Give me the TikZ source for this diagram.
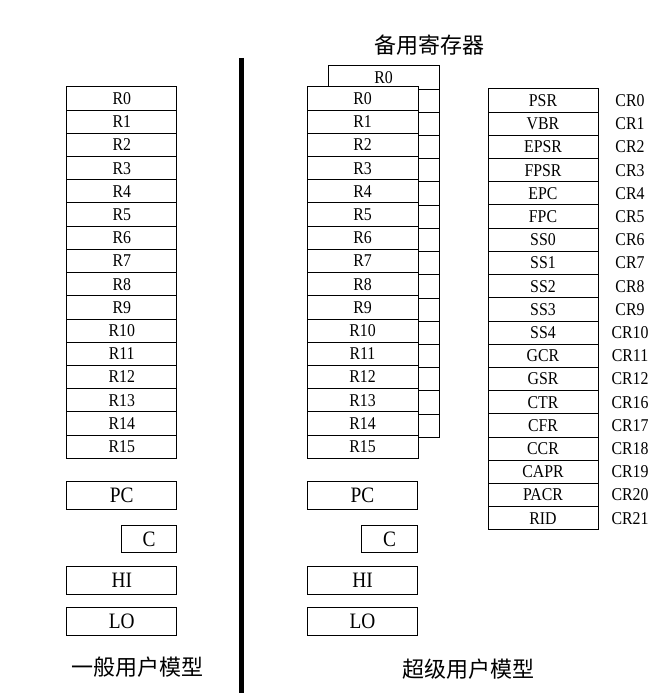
\documentclass[tikz,border=0pt]{standalone}
\usepackage{fontspec}
\setmainfont{Liberation Serif}
\newfontfamily\latn[FakeStretch=0.88]{Liberation Serif}
\newfontfamily\cjk{Noto Sans CJK SC}
\begin{document}
\begin{tikzpicture}[x=1pt,y=-1pt,
  reg/.style={draw, line width=1pt, fill=white, minimum width=110pt, minimum height=23.2pt, inner sep=0pt, font=\latn\fontsize{18}{18}\selectfont},
  big/.style={draw, line width=1pt, fill=white, minimum height=27.3pt, inner sep=0pt, font=\latn\fontsize{22}{22}\selectfont},
  crlab/.style={inner sep=0pt, font=\latn\fontsize{18}{18}\selectfont},
  title/.style={inner sep=0pt, font=\cjk\fontsize{22}{22}\selectfont}]
\useasboundingbox (0,0) rectangle (669,700);
% general user model
\foreach \i in {0,...,15}
  \node[reg] (l\i) at (121.75, 98.6+23.2*\i) {R\i};
% shadow bank
\foreach \i in {15,14,...,1}
  \node[reg, minimum width=111pt] (s\i) at (383.5, 77.6+23.2*\i) {};
\node[reg, minimum width=111pt] (s0) at (383.5, 77.6) {R0};
% supervisor main bank
\foreach \i in {0,...,15}
  \node[reg, minimum width=111pt] (r\i) at (362.5, 98.6+23.2*\i) {R\i};
% control registers
\foreach \n/\c [count=\i from 0] in {PSR/CR0, VBR/CR1, EPSR/CR2, FPSR/CR3, EPC/CR4, FPC/CR5, SS0/CR6, SS1/CR7, SS2/CR8, SS3/CR9, SS4/CR10, GCR/CR11, GSR/CR12, CTR/CR16, CFR/CR17, CCR/CR18, CAPR/CR19, PACR/CR20, RID/CR21} {
  \node[reg] (c\i) at (543, 100.6+23.2*\i) {\n};
  \node[crlab] (k\i) at (630, 100.6+23.2*\i) {\c};
}
% special registers left
\node[big, minimum width=110pt] (lpc) at (121.75, 495.4) {PC};
\node[big, minimum width=55.5pt] (lc) at (149, 539) {C};
\node[big, minimum width=110pt] (lhi) at (121.75, 580.4) {HI};
\node[big, minimum width=110pt] (llo) at (121.75, 621.4) {LO};
% special registers right
\node[big, minimum width=110pt] (rpc) at (362.5, 495.4) {PC};
\node[big, minimum width=55.5pt] (rc) at (389.5, 539) {C};
\node[big, minimum width=110pt] (rhi) at (362.5, 580.4) {HI};
\node[big, minimum width=110pt] (rlo) at (362.5, 621.4) {LO};
% divider
\coordinate (dtop) at (241.5, 58);
\coordinate (dbot) at (241.5, 693);
\draw[line width=5pt] (dtop) -- (dbot);
% titles
\node[title] (t1) at (429, 45) {备用寄存器};
\node[title] (t2) at (137, 667) {一般用户模型};
\node[title] (t3) at (468, 669) {超级用户模型};
\end{tikzpicture}
\end{document}
